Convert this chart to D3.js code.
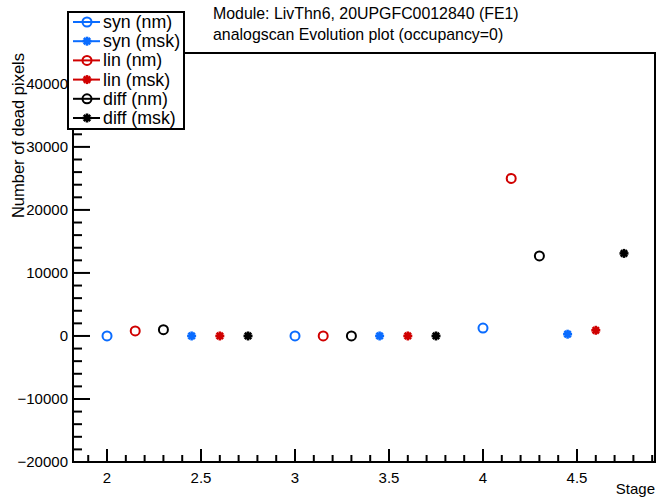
<!DOCTYPE html>
<html>
<head>
<meta charset="utf-8">
<script src="https://cdn.jsdelivr.net/npm/d3@7"></script>
<style>
  body { margin: 0; background: #fff; }
  svg { font-family: "Liberation Sans", Arial, sans-serif; }
</style>
</head>
<body>
<svg width="657" height="499"></svg>
<script>
// series data
const seriesNames = ['syn (nm)', 'syn (msk)', 'lin (nm)', 'lin (msk)', 'diff (nm)', 'diff (msk)'];
const seriesColors = ['#0a6cff', '#0a6cff', '#d00000', '#d00000', '#000000', '#000000'];
const seriesMarkers = ['circle', 'star', 'circle', 'star', 'circle', 'star'];

const synNmX = [2, 3, 4];
const synNmY = [0, 0, 1250];
const synMskX = [2.45, 3.45, 4.45];
const synMskY = [0, 0, 280];
const linNmX = [2.15, 3.15, 4.15];
const linNmY = [800, 0, 25000];
const linMskX = [2.6, 3.6, 4.6];
const linMskY = [0, 0, 900];
const diffNmX = [2.3, 3.3, 4.3];
const diffNmY = [1000, 0, 12700];
const diffMskX = [2.75, 3.75, 4.75];
const diffMskY = [0, 0, 13100];

const xTicks = [2, 2.5, 3, 3.5, 4, 4.5];
const yTicks = [-20000, -10000, 0, 10000, 20000, 30000, 40000];

const titleLines = ['Module: LivThn6, 20UPGFC0012840 (FE1)', 'analogscan Evolution plot (occupancy=0)'];

const xs = [synNmX, synMskX, linNmX, linMskX, diffNmX, diffMskX];
const ys = [synNmY, synMskY, linNmY, linMskY, diffNmY, diffMskY];
const series = seriesNames.map((name, i) => ({
  name: name,
  color: seriesColors[i],
  marker: seriesMarkers[i],
  points: xs[i].map((x, j) => ({x: x, y: ys[i][j]}))
}));

const svg = d3.select('svg');
const frame = {left: 73, right: 655, top: 53, bottom: 462};

const x = d3.scaleLinear().domain([1.819, 4.915]).range([frame.left, frame.right]);
const y = d3.scaleLinear().domain([-20000, 44900]).range([frame.bottom, frame.top]);

// minor ticks
const xMinor = d3.range(1.9, 4.92, 0.1).filter(v => Math.abs(v * 2 - Math.round(v * 2)) > 1e-6);
const yMinor = d3.range(-18000, 44900, 2000).filter(v => v % 10000 !== 0);

const axes = svg.append('g').attr('stroke', '#000');

// x axis ticks (pointing up from bottom)
axes.selectAll('.xmaj').data(xTicks).enter().append('line')
  .attr('x1', d => x(d)).attr('x2', d => x(d))
  .attr('y1', frame.bottom).attr('y2', frame.bottom - 13)
  .attr('stroke-width', 2);
axes.selectAll('.xmin').data(xMinor).enter().append('line')
  .attr('x1', d => x(d)).attr('x2', d => x(d))
  .attr('y1', frame.bottom).attr('y2', frame.bottom - 7)
  .attr('stroke-width', 2);

// y axis ticks (pointing right)
axes.selectAll('.ymaj').data(yTicks).enter().append('line')
  .attr('x1', frame.left).attr('x2', frame.left + 17)
  .attr('y1', d => y(d)).attr('y2', d => y(d))
  .attr('stroke-width', 2);
axes.selectAll('.ymin').data(yMinor).enter().append('line')
  .attr('x1', frame.left).attr('x2', frame.left + 9)
  .attr('y1', d => y(d)).attr('y2', d => y(d))
  .attr('stroke-width', 2);

// frame
svg.append('rect')
  .attr('x', frame.left).attr('y', frame.top)
  .attr('width', frame.right - frame.left).attr('height', frame.bottom - frame.top)
  .attr('fill', 'none').attr('stroke', '#000').attr('stroke-width', 2);

// tick labels
svg.selectAll('.xlab').data(xTicks).enter().append('text')
  .attr('x', d => x(d)).attr('y', frame.bottom + 21)
  .attr('text-anchor', 'middle').attr('font-size', 15)
  .text(d => d);
svg.selectAll('.ylab').data(yTicks).enter().append('text')
  .attr('x', frame.left - 5).attr('y', d => y(d) + 5)
  .attr('text-anchor', 'end').attr('font-size', 15)
  .text(d => d < 0 ? '\u2212' + Math.abs(d) : d);

// axis titles
svg.append('text')
  .attr('x', frame.right).attr('y', 494)
  .attr('text-anchor', 'end').attr('font-size', 15)
  .text('Stage');
svg.append('text')
  .attr('transform', 'translate(24,' + frame.top + ') rotate(-90)')
  .attr('text-anchor', 'end').attr('font-size', 16.5)
  .text('Number of dead pixels');

// title
svg.selectAll('.title').data(titleLines).enter().append('text')
  .attr('x', 213).attr('y', (d, i) => 19 + i * 21)
  .attr('font-size', 15.9)
  .text(d => d);

function drawMarker(g, type, color) {
  if (type === 'circle') {
    g.append('circle').attr('r', 4.5)
      .attr('fill', 'none').attr('stroke', color).attr('stroke-width', 2);
  } else {
    [0, 45, 90, 135].forEach(a => {
      g.append('line')
        .attr('x1', -4.5).attr('x2', 4.5).attr('y1', 0).attr('y2', 0)
        .attr('transform', 'rotate(' + a + ')')
        .attr('stroke', color).attr('stroke-width', 2.6);
    });
    g.append('circle').attr('r', 2.6).attr('fill', color);
  }
}

// points
series.forEach(s => {
  s.points.forEach(p => {
    const g = svg.append('g')
      .attr('transform', 'translate(' + x(p.x) + ',' + y(p.y) + ')');
    drawMarker(g, s.marker, s.color);
  });
});

// legend
const legend = svg.append('g');
legend.append('rect')
  .attr('x', 68).attr('y', 12).attr('width', 116).attr('height', 117)
  .attr('fill', '#fff').attr('stroke', '#000').attr('stroke-width', 2);
series.forEach((s, i) => {
  const ly = 22 + i * 19.2;
  legend.append('line')
    .attr('x1', 73).attr('x2', 100).attr('y1', ly).attr('y2', ly)
    .attr('stroke', s.color).attr('stroke-width', 2);
  const g = legend.append('g').attr('transform', 'translate(87,' + ly + ')');
  drawMarker(g, s.marker, s.color);
  legend.append('text')
    .attr('x', 103).attr('y', ly + 6)
    .attr('font-size', 17.8)
    .text(s.name);
});
</script>
</body>
</html>
